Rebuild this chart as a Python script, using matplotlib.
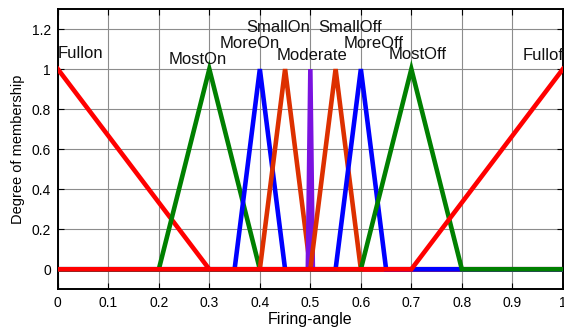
import numpy as np
import matplotlib
matplotlib.use("Agg")
import matplotlib.pyplot as plt

plt.rcParams['font.family'] = ['Liberation Sans', 'DejaVu Sans']

# Membership functions over the firing angle (breakpoints of each shape)
names = ["Fullon", "MostOn", "MoreOn", "SmallOn", "Moderate",
         "SmallOff", "MoreOff", "MostOff", "Fulloff"]
breakpoints = [
    [0.0, 0.3],               # Fullon: falls from 1 at 0 to 0 at 0.3
    [0.2, 0.3, 0.4],
    [0.35, 0.4, 0.45],
    [0.4, 0.45, 0.5],
    [0.495, 0.5, 0.505],
    [0.5, 0.55, 0.6],
    [0.55, 0.6, 0.65],
    [0.6, 0.7, 0.8],
    [0.7, 1.0],               # Fulloff: rises from 0 at 0.7 to 1 at 1.0
]
peak_values = [
    [1, 0],
    [0, 1, 0],
    [0, 1, 0],
    [0, 1, 0],
    [0, 1, 0],
    [0, 1, 0],
    [0, 1, 0],
    [0, 1, 0],
    [0, 1],
]
colors = ["#ff0000", "#008000", "#0000ff", "#dd3000", "#7a12e0",
          "#dd3000", "#0000ff", "#008000", "#ff0000"]

# Label anchor positions (x, y) in data units
label_x = [0.0, 0.278, 0.381, 0.436, 0.503, 0.579, 0.626, 0.712, 0.92]
label_y = [1.08, 1.05, 1.128, 1.208, 1.066, 1.208, 1.128, 1.074, 1.066]
label_ha = ["left", "center", "center", "center", "center",
            "center", "center", "center", "left"]

x_ticks = [0, 0.1, 0.2, 0.3, 0.4, 0.5, 0.6, 0.7, 0.8, 0.9, 1]
x_ticklabels = ["0", "0.1", "0.2", "0.3", "0.4", "0.5", "0.6", "0.7", "0.8", "0.9", "1"]
y_ticks = [0, 0.2, 0.4, 0.6, 0.8, 1, 1.2]
y_ticklabels = ["0", "0.2", "0.4", "0.6", "0.8", "1", "1.2"]

fig = plt.figure(figsize=(5.64, 3.28), dpi=100)
ax = fig.add_axes([0.1025, 0.118, 0.8955, 0.8546])

for bp, pv, c in zip(breakpoints, peak_values, colors):
    xs = [0.0] + list(bp) + [1.0]
    ys = [pv[0]] + list(pv) + [pv[-1]]
    ax.plot(xs, ys, color=c, lw=3.3, solid_joinstyle='miter', zorder=3)

for name, lx, ly, ha in zip(names, label_x, label_y, label_ha):
    ax.text(lx, ly, name, ha=ha, va='center', fontsize=12, color='#111111',
            zorder=4)

ax.set_xlim(0, 1)
ax.set_ylim(-0.1, 1.3)
ax.set_xticks(x_ticks)
ax.set_xticklabels(x_ticklabels)
ax.set_yticks(y_ticks)
ax.set_yticklabels(y_ticklabels)
ax.tick_params(direction='in', top=True, right=True, labelsize=10,
               length=4, width=0.8, colors='black', pad=5)
ax.grid(True, color='#8c8c8c', lw=0.8, zorder=0)
for s in ax.spines.values():
    s.set_linewidth(1.4)
    s.set_color('black')

ax.set_xlabel("Firing-angle", fontsize=11.5, labelpad=1)
ax.set_ylabel("Degree of membership", fontsize=10.5, labelpad=5)

fig.savefig("out.png", dpi=100)
